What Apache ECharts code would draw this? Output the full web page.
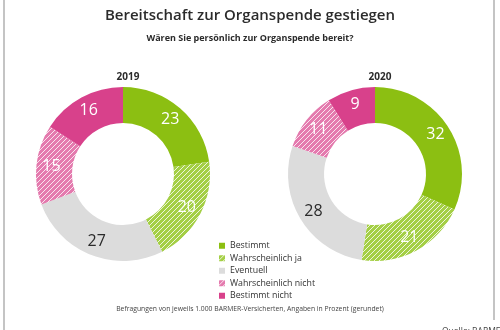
<!DOCTYPE html>
<html>
<head>
<meta charset="utf-8">
<script src="https://cdn.jsdelivr.net/npm/echarts@6/dist/echarts.min.js"></script>
<style>
  html, body { margin: 0; padding: 0; background: #fff; }
  #chart { width: 500px; height: 330px; }
</style>
</head>
<body>
<div id="chart"></div>
<script>
// Answer categories (legend order) and survey shares in percent
const categories = ['Bestimmt', 'Wahrscheinlich ja', 'Eventuell', 'Wahrscheinlich nicht', 'Bestimmt nicht'];
const years = ['2019', '2020'];
const values2019 = [23, 20, 27, 15, 16];
const values2020 = [32, 21, 28, 11, 9];

const GREEN = '#8cbf12';
const GREEN_LIGHT = '#a4cf45';
const GREY = '#dcdcdc';
const PINK_LIGHT = '#e47aae';
const PINK = '#d8418b';

// Diagonal white hatching on a base colour, as a repeating canvas pattern
function hatch(base) {
  const s = 5;
  const c = document.createElement('canvas');
  c.width = s; c.height = s;
  const g = c.getContext('2d');
  g.fillStyle = base;
  g.fillRect(0, 0, s, s);
  g.strokeStyle = 'rgba(255,255,255,0.8)';
  g.lineWidth = 1;
  g.beginPath();
  g.moveTo(-1, s + 1); g.lineTo(s + 1, -1);
  g.moveTo(-1, 1); g.lineTo(1, -1);
  g.moveTo(s - 1, s + 1); g.lineTo(s + 1, s - 1);
  g.stroke();
  return { image: c, repeat: 'repeat' };
}

const fills = [GREEN, hatch(GREEN_LIGHT), GREY, hatch(PINK_LIGHT), PINK];
const labelColors = ['#fff', '#fff', '#2a2a2a', '#fff', '#fff'];

function pieData(values) {
  return values.map((v, i) => ({
    name: categories[i],
    value: v,
    itemStyle: { color: fills[i] },
    label: { color: labelColors[i] }
  }));
}

function pieSeries(values, cx) {
  return {
    type: 'pie',
    center: [cx, 174],
    radius: [51, 87],
    startAngle: 90,
    clockwise: true,
    silent: true,
    animation: false,
    label: {
      show: true,
      position: 'inside',
      formatter: '{c}',
      fontFamily: 'Open Sans',
      fontSize: 16
    },
    labelLine: { show: false },
    itemStyle: { borderWidth: 0 },
    data: pieData(values)
  };
}

const chart = echarts.init(document.getElementById('chart'), null, { renderer: 'canvas' });

const TEXT = '#2b2b2b';

chart.setOption({
  backgroundColor: '#fff',
  animation: false,
  title: [
    {
      text: 'Bereitschaft zur Organspende gestiegen',
      left: 'center', top: 3,
      textStyle: { fontFamily: 'Open Sans', fontSize: 15, fontWeight: 600, color: TEXT }
    },
    {
      text: 'Wären Sie persönlich zur Organspende bereit?',
      left: 'center', top: 29,
      textStyle: { fontFamily: 'Open Sans', fontSize: 9, fontWeight: 'bold', color: TEXT }
    },
    {
      text: years[0],
      left: 123, top: 67, textAlign: 'center',
      textStyle: { fontFamily: 'Open Sans', fontSize: 10, fontWeight: 'bold', color: TEXT }
    },
    {
      text: years[1],
      left: 375, top: 67, textAlign: 'center',
      textStyle: { fontFamily: 'Open Sans', fontSize: 10, fontWeight: 'bold', color: TEXT }
    },
    {
      text: 'Befragungen von jeweils 1.000 BARMER-Versicherten, Angaben in Prozent (gerundet)',
      left: 'center', top: 301,
      textStyle: { fontFamily: 'Open Sans', fontSize: 6.8, fontWeight: 'normal', color: '#444' }
    },
    {
      text: 'Quelle: BARMER',
      left: 437, top: 322,
      textStyle: { fontFamily: 'Open Sans', fontSize: 8.5, fontWeight: 'normal', color: '#444' }
    }
  ],
  legend: {
    orient: 'vertical',
    left: 214, top: 235,
    itemWidth: 6, itemHeight: 6, itemGap: 1,
    icon: 'rect',
    selectedMode: false,
    textStyle: { fontFamily: 'Open Sans', fontSize: 8.8, color: '#333', lineHeight: 11.5 },
    data: categories.map((n, i) => ({ name: n, itemStyle: { color: fills[i] } }))
  },
  graphic: [
    { type: 'line', shape: { x1: 4, y1: 0, x2: 4, y2: 330 }, style: { stroke: '#b0b0b0', lineWidth: 1.5 } },
    { type: 'line', shape: { x1: 494, y1: 0, x2: 494, y2: 320 }, style: { stroke: '#b0b0b0', lineWidth: 1.5 } }
  ],
  series: [pieSeries(values2019, 123), pieSeries(values2020, 375)]
});
</script>
</body>
</html>
